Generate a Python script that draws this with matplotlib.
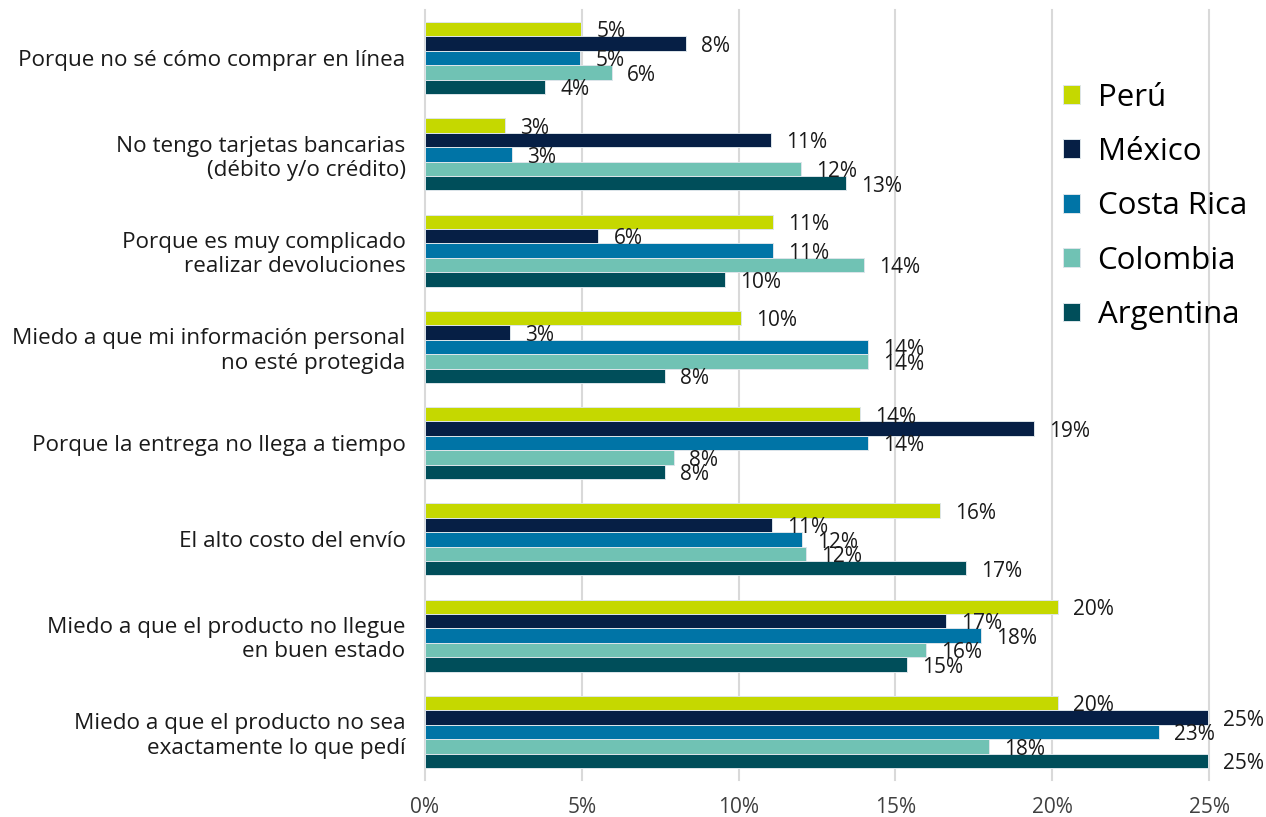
import numpy as np
import matplotlib.pyplot as plt

plt.rcParams['font.family'] = ['Open Sans', 'DejaVu Sans']

categories = [
    "Porque no sé cómo comprar en línea",
    "No tengo tarjetas bancarias\n(débito y/o crédito)",
    "Porque es muy complicado\nrealizar devoluciones",
    "Miedo a que mi información personal\nno esté protegida",
    "Porque la entrega no llega a tiempo",
    "El alto costo del envío",
    "Miedo a que el producto no llegue\nen buen estado",
    "Miedo a que el producto no sea\nexactamente lo que pedí",
]
series = ["Perú", "México", "Costa Rica", "Colombia", "Argentina"]
peru = [4.97, 2.55, 11.1, 10.08, 13.87, 16.42, 20.18, 20.18]
mexico = [8.32, 11.03, 5.52, 2.71, 19.42, 11.07, 16.61, 24.97]
costa_rica = [4.94, 2.77, 11.1, 14.13, 14.13, 12.02, 17.73, 23.41]
colombia = [5.96, 11.99, 14.0, 14.13, 7.94, 12.15, 15.98, 17.98]
argentina = [3.83, 13.42, 9.57, 7.65, 7.65, 17.25, 15.37, 24.97]
colors = ["#c5d800", "#061f45", "#0074a6", "#70c2b4", "#004e5a"]
xticks = [0, 5, 10, 15, 20, 25]

values = [peru, mexico, costa_rica, colombia, argentina]

fig = plt.figure(figsize=(12.66, 8.17), dpi=100)
ax = fig.add_axes([0.3357, 0.0453, 0.6193, 0.9425])

y = np.arange(len(categories))
h = 0.15
for i, (name, vals, c) in enumerate(zip(series, values, colors)):
    pos = y - 2 * h + i * h
    ax.barh(pos, vals, height=h, color=c, edgecolor="#dde5ea", linewidth=0.7,
            label=name, zorder=3)
    for p, v in zip(pos, vals):
        ax.annotate(f"{round(v):.0f}%", (v, p), xytext=(11, -2),
                    textcoords="offset points", ha="left", va="center",
                    fontsize=15, color="#1a1a1a", zorder=4, annotation_clip=False)

ax.set_ylim(len(categories) - 0.5, -0.5)
ax.set_xlim(0, 25)
ax.set_yticks(y)
ax.set_yticklabels(categories, fontsize=16.2, color="#1a1a1a")
ax.set_xticks(xticks)
ax.set_xticklabels([f"{t}%" for t in xticks], fontsize=15, color="#404040")
ax.tick_params(axis="y", length=0, pad=14)
ax.tick_params(axis="x", length=0, pad=12)
ax.grid(axis="x", color="#d9d9d9", linewidth=1.5, zorder=0)
for gl in ax.get_xgridlines():
    gl.set_clip_on(False)
for s in ax.spines.values():
    s.set_visible(False)

ax.legend(loc="upper left", bbox_to_anchor=(0.798, 0.922), frameon=False,
          fontsize=22.5, handlelength=0.55, handleheight=0.55, handletextpad=0.55,
          labelspacing=0.78, borderaxespad=0)

fig.savefig("out.png", dpi=100)
